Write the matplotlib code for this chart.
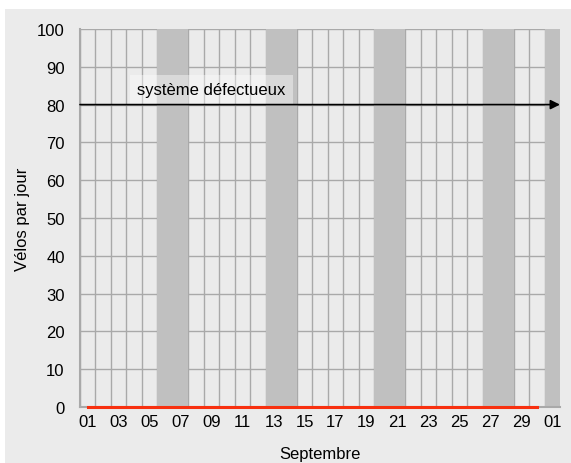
import numpy as np
import matplotlib
matplotlib.use("Agg")
import matplotlib.pyplot as plt
from matplotlib.patches import Rectangle

plt.rcParams['font.family'] = ['Liberation Sans', 'DejaVu Sans']

# one category per day, 1 Sep -> 1 Oct
days = ['09-01', '09-02', '09-03', '09-04', '09-05', '09-06', '09-07', '09-08',
        '09-09', '09-10', '09-11', '09-12', '09-13', '09-14', '09-15', '09-16',
        '09-17', '09-18', '09-19', '09-20', '09-21', '09-22', '09-23', '09-24',
        '09-25', '09-26', '09-27', '09-28', '09-29', '09-30', '10-01']
# counted bikes (Sep 1..30), counter out of order -> all zero
velos = [0, 0, 0, 0, 0, 0, 0, 0, 0, 0, 0, 0, 0, 0, 0,
         0, 0, 0, 0, 0, 0, 0, 0, 0, 0, 0, 0, 0, 0, 0]
shaded = ['09-06', '09-07', '09-13', '09-14', '09-20', '09-21',
          '09-27', '09-28', '10-01']
seuil = 80
note = 'système défectueux'

bg = '#ebebeb'
gridc = '#a9a9a9'
band = '#c0c0c0'

fig = plt.figure(figsize=(5.71, 4.64), dpi=100, facecolor='white')
fig.patches.append(Rectangle((5 / 571, 0), 1, 454 / 464, transform=fig.transFigure,
                             facecolor=bg, edgecolor='none', zorder=-10))
ax = fig.add_axes([80 / 571, 56 / 464, 480 / 571, 378 / 464])
ax.set_facecolor(bg)

x = np.arange(len(days))
ax.set_xlim(-0.5, len(days) - 0.5)
ax.set_ylim(0, 100)

# grid: day boundaries and every 10
for b in np.arange(len(days) + 1) - 0.5:
    ax.axvline(b, color=gridc, lw=1, zorder=1)
for yv in range(10, 101, 10):
    ax.axhline(yv, color=gridc, lw=1, zorder=1)

for d in shaded:
    i = days.index(d)
    ax.axvspan(i - 0.5, i + 0.5, color=band, lw=0, zorder=2)

ax.plot(x[:len(velos)], velos, color='#f8300f', lw=2.2, zorder=5, clip_on=False)

ax.annotate('', xy=(len(days) - 0.5, seuil), xytext=(-0.5, seuil),
            arrowprops=dict(arrowstyle='-|>', color='black', lw=1.2,
                            mutation_scale=14, shrinkA=0, shrinkB=0),
            zorder=6, annotation_clip=False)
ax.text(8, 81.9, note, ha='center', va='bottom', fontsize=12, zorder=4,
        bbox=dict(boxstyle='square,pad=0.45', facecolor='white', alpha=0.4,
                  edgecolor='none'))

ax.set_xticks(x[::2])
ax.set_xticklabels([d[3:] for d in days[::2]])
ax.set_yticks(range(0, 101, 10))
ax.tick_params(axis='both', length=0, labelsize=12)
ax.tick_params(axis='x', pad=5)
ax.tick_params(axis='y', pad=11)

for s in ['top', 'right']:
    ax.spines[s].set_visible(False)
for s in ['left', 'bottom']:
    ax.spines[s].set_color(gridc)
    ax.spines[s].set_linewidth(1.5)
    ax.spines[s].set_zorder(3)

ax.set_ylabel('Vélos par jour', fontsize=12, labelpad=5)
ax.set_xlabel('Septembre', fontsize=12, labelpad=12)

fig.savefig('out.png', dpi=100, facecolor='white')
